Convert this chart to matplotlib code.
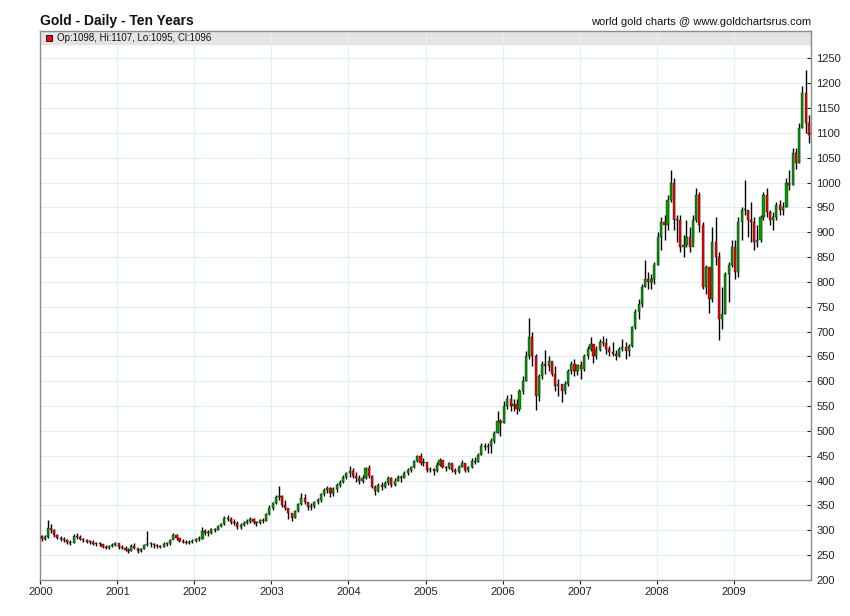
import matplotlib
matplotlib.use("Agg")
import matplotlib.pyplot as plt
import matplotlib.dates as mdates
import numpy as np
import pandas as pd

plt.rcParams['font.family'] = ['Liberation Sans', 'DejaVu Sans']

# half-monthly bars (1st-15th, 15th-end of each month)
highs = [
    290, 291, 320, 312, 302, 292, 288, 286, 282, 280, 292, 294, 290, 284, 283, 281, 280, 277, 276, 273, 270, 270, 274, 276,  # 2000
    272, 270, 268, 264, 272, 275, 264, 264, 272, 298, 276, 274, 272, 270, 276, 277, 282, 294, 292, 285, 282, 280, 280, 282,  # 2001
    285, 288, 306, 302, 300, 304, 305, 310, 315, 328, 331, 326, 322, 318, 315, 318, 322, 326, 324, 318, 322, 325, 335, 350,  # 2002
    358, 372, 389, 372, 362, 345, 335, 340, 355, 375, 374, 358, 354, 360, 366, 376, 385, 389, 387, 388, 396, 402, 412, 418,  # 2003
    430, 425, 418, 412, 412, 428, 431, 412, 392, 395, 398, 400, 410, 408, 405, 412, 412, 420, 426, 430, 442, 452, 456, 445,  # 2004
    430, 428, 425, 438, 446, 442, 430, 438, 436, 425, 432, 441, 436, 430, 445, 448, 455, 475, 476, 475, 485, 500, 540, 525,  # 2005
    560, 572, 575, 565, 565, 585, 610, 660, 728, 700, 655, 615, 640, 663, 650, 640, 630, 605, 595, 600, 625, 640, 645, 635,  # 2006
    640, 655, 670, 690, 675, 670, 685, 692, 688, 670, 680, 662, 668, 685, 680, 675, 712, 745, 765, 795, 845, 820, 815, 840,  # 2007
    900, 930, 935, 975, 1025, 1010, 935, 935, 895, 925, 910, 935, 988, 980, 920, 835, 830, 910, 930, 860, 790, 820, 840, 885,  # 2008
    885, 930, 950, 1006, 945, 960, 930, 915, 935, 980, 988, 945, 940, 960, 965, 960, 1010, 1025, 1070, 1070, 1120, 1195, 1226, 1135,  # 2009
]
lows = [
    278, 280, 284, 294, 286, 282, 278, 276, 272, 270, 274, 283, 280, 276, 274, 273, 270, 268, 268, 264, 263, 262, 266, 268,  # 2000
    263, 262, 258, 254, 258, 262, 255, 256, 262, 268, 266, 265, 264, 264, 266, 268, 270, 282, 280, 276, 274, 272, 272, 274,  # 2001
    276, 278, 282, 290, 288, 292, 297, 300, 306, 310, 318, 313, 310, 302, 303, 308, 312, 315, 312, 309, 313, 315, 318, 330,  # 2002
    340, 352, 362, 346, 340, 322, 319, 324, 336, 350, 352, 341, 341, 344, 352, 358, 370, 375, 368, 370, 378, 388, 396, 404,  # 2003
    408, 405, 398, 393, 395, 404, 405, 385, 371, 378, 382, 386, 392, 388, 390, 400, 398, 405, 412, 418, 426, 438, 432, 430,  # 2004
    418, 418, 411, 418, 430, 425, 420, 423, 418, 414, 416, 428, 418, 418, 426, 434, 437, 452, 462, 456, 456, 476, 495, 490,  # 2005
    515, 545, 540, 540, 535, 540, 575, 600, 645, 630, 542, 560, 605, 615, 620, 610, 580, 570, 558, 575, 590, 615, 610, 612,  # 2006
    605, 620, 645, 660, 636, 645, 660, 670, 655, 650, 650, 642, 648, 660, 645, 650, 668, 705, 725, 750, 790, 785, 785, 795,  # 2007
    835, 865, 885, 905, 960, 905, 880, 860, 850, 870, 860, 880, 920, 900, 785, 775, 737, 760, 835, 683, 705, 735, 760, 830,  # 2008
    805, 810, 885, 935, 890, 880, 864, 870, 880, 925, 930, 915, 904, 925, 935, 935, 950, 985, 995, 1028, 1040, 1110, 1100, 1080,  # 2009
]
closes = [
    283, 286, 305, 300, 290, 285, 282, 280, 276, 275, 288, 287, 283, 280, 277, 276, 273, 273, 272, 266, 265, 268, 271, 274,  # 2000
    266, 265, 260, 258, 268, 264, 258, 262, 270, 272, 272, 270, 268, 266, 272, 274, 280, 290, 284, 279, 277, 275, 276, 279,  # 2001
    282, 282, 298, 295, 294, 302, 301, 308, 312, 325, 322, 316, 314, 306, 310, 315, 318, 322, 316, 314, 320, 318, 332, 345,  # 2002
    355, 368, 370, 350, 345, 334, 325, 338, 352, 365, 356, 346, 348, 356, 362, 374, 382, 385, 375, 384, 392, 398, 408, 415,  # 2003
    420, 410, 405, 400, 405, 425, 410, 388, 380, 392, 388, 395, 405, 392, 400, 408, 405, 416, 422, 428, 440, 450, 436, 438,  # 2004
    422, 424, 420, 432, 442, 428, 425, 435, 422, 418, 428, 436, 422, 428, 440, 438, 452, 470, 468, 470, 480, 496, 520, 515,  # 2005
    550, 565, 550, 555, 545, 580, 600, 650, 690, 650, 570, 610, 635, 630, 640, 615, 590, 595, 580, 595, 620, 635, 620, 632,  # 2006
    625, 650, 665, 675, 650, 662, 680, 678, 665, 658, 655, 650, 665, 668, 660, 670, 710, 740, 755, 790, 805, 800, 805, 835,  # 2007
    890, 920, 915, 965, 1000, 925, 925, 870, 875, 890, 870, 925, 975, 915, 790, 830, 765, 880, 850, 725, 735, 815, 835, 870,  # 2008
    820, 920, 945, 945, 925, 920, 880, 885, 930, 975, 940, 925, 930, 955, 945, 950, 1000, 995, 1060, 1040, 1110, 1180, 1120, 1096,  # 2009
]
first_open = 288
years = list(range(2000, 2010))

title = "Gold - Daily - Ten Years"
source = "world gold charts @ www.goldchartsrus.com"
legend_text = "Op:1098, Hi:1107, Lo:1095, Cl:1096"

highs = np.array(highs)
lows = np.array(lows)
closes = np.array(closes)
opens = np.concatenate([[first_open], closes[:-1]])

starts = pd.date_range("2000-01-01", periods=len(closes), freq="SMS")
x = mdates.date2num(starts + pd.Timedelta(days=7))

fig = plt.figure(figsize=(8.5, 6.16), dpi=100)
ax = fig.add_axes([40.3 / 850, 36 / 616, 770.4 / 850, 549 / 616])

ymin, ymax = 200, 1305
ax.set_ylim(ymin, ymax)
ax.set_xlim(mdates.datestr2num("2000-01-01"), mdates.datestr2num("2010-01-01"))

# grey legend strip along the top of the plot
ax.axhspan(1278, ymax, color="#e4e4e4", zorder=0)

ax.grid(True, color="#e2eff9", linewidth=0.8)
ax.set_axisbelow(True)

up = closes >= opens
colors = np.where(up, "#00a000", "#ff0000")
ax.vlines(x, lows, highs, color="black", linewidth=1.0, zorder=2)
ax.bar(x, np.maximum(np.abs(closes - opens), 2), bottom=np.minimum(opens, closes),
       width=10, color=colors, edgecolor="black", linewidth=0.25, zorder=3)

ax.yaxis.tick_right()
ax.set_yticks(np.arange(200, 1251, 50))
ax.set_xticks([mdates.datestr2num(f"{y}-01-01") for y in years])
ax.set_xticklabels([str(y) for y in years])
ax.tick_params(axis="y", direction="in", length=3, pad=4, labelsize=8,
               colors="#222222", right=True, left=False)
ax.tick_params(axis="x", direction="out", length=3, pad=2, labelsize=8,
               colors="#222222")
for s in ax.spines.values():
    s.set_color("#8c8c8c")
    s.set_linewidth(1)

fig.text(40 / 850, 1 - 21 / 616, title, fontsize=10, fontweight="bold",
         va="center", ha="left", color="#111111")
fig.text(811 / 850, 1 - 22 / 616, source, fontsize=8, va="center",
         ha="right", color="#111111")

ax.plot([0.0113], [0.9878], marker="s", ms=4.5, mfc="red", mec="black",
        mew=0.6, transform=ax.transAxes, clip_on=False, zorder=5)
ax.text(0.0217, 0.9878, legend_text, transform=ax.transAxes, fontsize=7,
        va="center", ha="left", color="#111111")

fig.savefig("out.png", dpi=100)
